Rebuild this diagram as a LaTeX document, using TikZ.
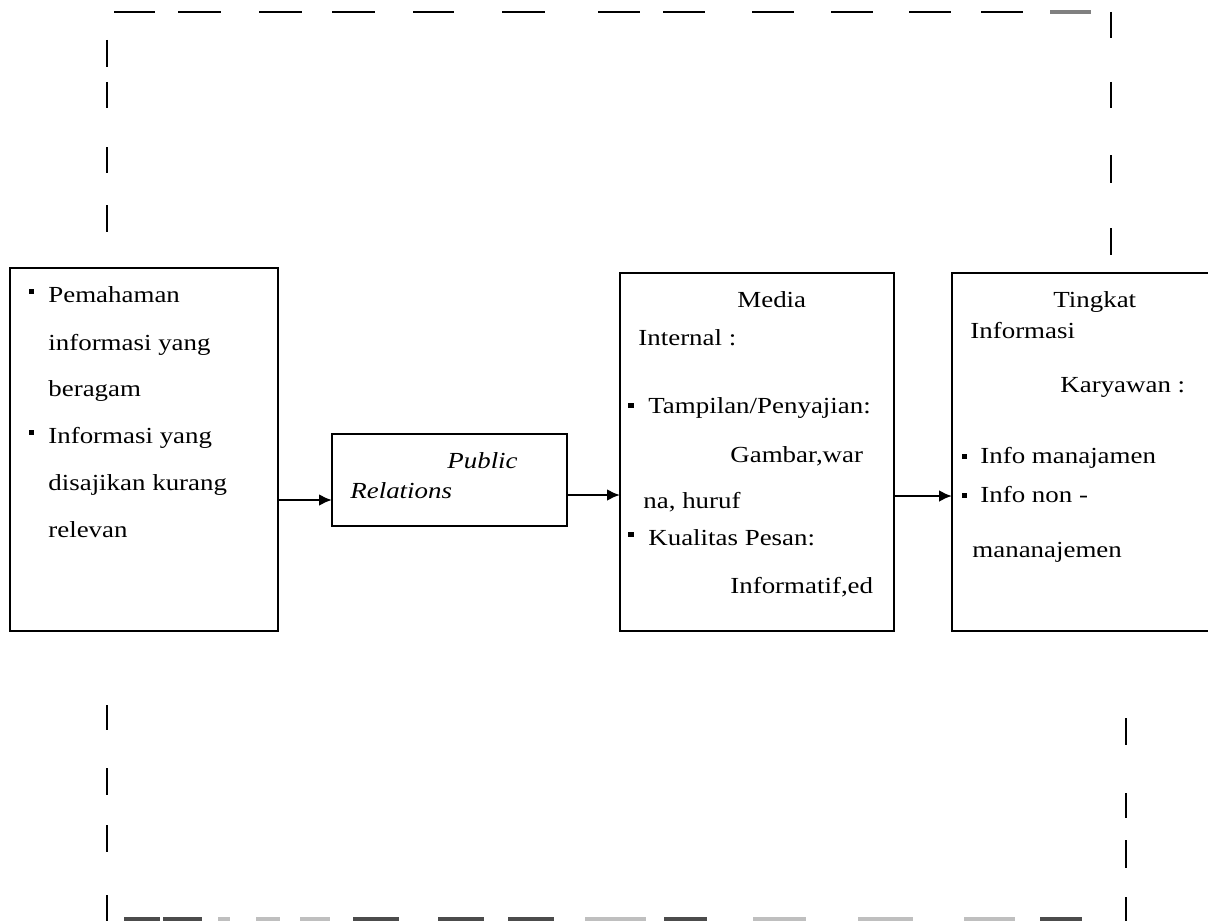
\documentclass[tikz,border=0pt]{standalone}
\usepackage{fontspec}
\setmainfont{Liberation Serif}[FakeStretch=1.17]
\usetikzlibrary{arrows.meta}
\begin{document}
\begin{tikzpicture}[x=0.5pt,y=-0.5pt,
  box/.style={draw, line width=1pt, rectangle, inner sep=0pt, outer sep=0pt},
  arr/.style={-{Latex[length=6.5pt,width=6pt]}, line width=1.4pt},
  txt/.style={anchor=base west, inner sep=0pt, font=\fontsize{11.5}{13}\selectfont},
  itxt/.style={txt, font=\fontsize{11.5}{13}\selectfont\itshape},
  bul/.style={rectangle, fill=black, inner sep=0pt, minimum size=2.8pt},
  fr/.style={line width=1pt},
  frb/.style={line width=3pt}]
\useasboundingbox (0,0) rectangle (1208,920);
\fill[white] (0,0) rectangle (1208,920);

% dashed frame - top
\foreach \a/\b in {114/155,178/221,259/302,332/375,413/454,502/545,598/640,663/705,752/794,831/873,909/951,981/1023}
  \draw[fr, line width=1.3pt] (\a,12) -- (\b,12);
\draw[line width=1.8pt, gray] (1050,12) -- (1091,12);
% left verticals
\foreach \a/\b in {40/67,82/108,147/173,205/232,705/730,768/795,825/852,895/922}
  \draw[fr] (107,\a) -- (107,\b);
% right verticals
\foreach \a/\b in {12/38,82/108,155/183,228/255}
  \draw[fr] (1111,\a) -- (1111,\b);
\foreach \a/\b in {718/745,793/818,840/868,897/922}
  \draw[fr] (1126,\a) -- (1126,\b);
% bottom dashes (clipped by the page edge)
\foreach \a/\b in {124/160,163/202,353/399,438/484,508/554,664/707,1040/1082}
  \draw[frb, black!70] (\a,920) -- (\b,920);
\foreach \a/\b in {218/230,256/280,300/330,585/646,753/806,858/913,964/1015}
  \draw[frb, black!25] (\a,920) -- (\b,920);

% boxes
\node[box, minimum width=134pt, minimum height=181.5pt] (n1) at (144,449.5) {};
\node[box, minimum width=117.5pt, minimum height=46pt] (n2) at (449.5,480) {};
\node[box, minimum width=137pt, minimum height=179pt] (n3) at (757,452) {};
\node[box, minimum width=130pt, minimum height=179pt] (n4) at (1082,452) {};
\draw[line width=1.4pt] (n3.west |- 0,413) -- (n3.west |- 0,438);

% box 1 text
\node[bul] (b11) at (31.5,291.5) {};
\node[txt] (t11) at (48,302) {Pemahaman};
\node[txt] (t12) at (48,350) {informasi yang};
\node[txt] (t13) at (48,396) {beragam};
\node[bul] (b12) at (31.5,432.5) {};
\node[txt] (t14) at (48,443) {Informasi yang};
\node[txt] (t15) at (48,490) {disajikan kurang};
\node[txt] (t16) at (48,537) {relevan};

% box 2 text
\node[itxt] (t21) at (447,468) {Public};
\node[itxt] (t22) at (350,498) {Relations};

% box 3 text
\node[txt] (t31) at (737,307) {Media};
\node[txt] (t32) at (638,345) {Internal :};
\node[bul] (b31) at (631,405.5) {};
\node[txt] (t33) at (648,413) {Tampilan/Penyajian:};
\node[txt] (t34) at (730,462) {Gambar,war};
\node[txt] (t35) at (643,508) {na, huruf};
\node[bul] (b32) at (631,534.5) {};
\node[txt] (t36) at (648,545) {Kualitas Pesan:};
\node[txt] (t37) at (730,593) {Informatif,ed};

% box 4 text
\node[txt] (t41) at (1053,307) {Tingkat};
\node[txt] (t42) at (970,338) {Informasi};
\node[txt] (t43) at (1060,392) {Karyawan :};
\node[bul] (b41) at (964.5,456.5) {};
\node[txt] (t44) at (980,463) {Info manajamen};
\node[bul] (b42) at (964.5,495.5) {};
\node[txt] (t45) at (980,502) {Info non -};
\node[txt] (t46) at (972,557) {mananajemen};

% arrows
\coordinate (y1) at (0,500);
\coordinate (y2) at (0,495);
\coordinate (y3) at (0,496);
\draw[arr] (n1.east |- y1) -- (n2.west |- y1);
\draw[arr] (n2.east |- y2) -- (n3.west |- y2);
\draw[arr] (n3.east |- y3) -- (n4.west |- y3);
\end{tikzpicture}
\end{document}
